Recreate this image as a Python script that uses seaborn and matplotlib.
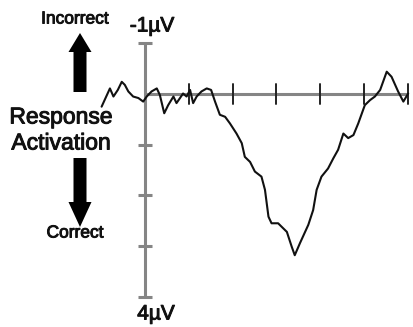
import numpy as np
import pandas as pd
import matplotlib
matplotlib.use("Agg")
import matplotlib.pyplot as plt
from matplotlib.patches import Polygon
import matplotlib.patheffects as pe
import seaborn as sns

# Response-locked waveform (ms, microvolts; positive plotted downward)
time_ms = [-99, -80, -72, -62, -53, -46, -38, -27, -15, -4, 4, 15, 27, 34, 44,
           53, 65, 72, 80, 87, 95, 103, 110, 118, 129, 141, 151, 160, 171, 183,
           194, 209, 221, 228, 240, 251, 266, 274, 282, 289, 304, 324, 335, 342,
           354, 373, 384, 392, 403, 418, 430, 441, 453, 464, 476, 487, 502, 514,
           525, 537, 552, 563, 578, 590, 601]
amplitude_uv = [0.25, -0.11, 0.05, -0.08, -0.24, -0.18, -0.05, 0.05, 0.08, 0.15,
                0.05, -0.05, -0.11, 0.02, 0.38, 0.22, 0.05, 0.18, 0.08, -0.01,
                0.05, -0.08, 0.18, 0.05, -0.05, -0.11, -0.08, 0.15, 0.41, 0.45,
                0.58, 0.78, 0.97, 1.24, 1.34, 1.53, 1.63, 1.89, 2.42, 2.55, 2.55,
                2.72, 3.01, 3.18, 2.94, 2.58, 2.29, 1.89, 1.63, 1.47, 1.27, 1.10,
                0.78, 0.87, 0.81, 0.58, 0.22, 0.12, 0.05, -0.08, -0.44, -0.34,
                -0.05, 0.15, -0.01]

time_ticks = [100, 200, 300, 400, 500, 600]
volt_ticks = [-1, 0, 1, 2, 3, 4]
top_label = "-1\u00b5V"
bottom_label = "4\u00b5V"

df = pd.DataFrame({"time": time_ms, "uv": amplitude_uv})

sns.set_theme(style="white")
plt.rcParams["font.family"] = ["Liberation Sans", "DejaVu Sans"]

W, H = 413, 327
fig = plt.figure(figsize=(W / 100, H / 100), dpi=100)
ax = fig.add_axes([0, 0, 1, 1])

axis_grey = "#858585"
# voltage axis with end caps / ticks
ax.plot([0, 0], [volt_ticks[0], volt_ticks[-1]], color=axis_grey, lw=2.2,
        solid_capstyle="butt", zorder=1)
for v in volt_ticks:
    if v == 0:
        continue
    ax.plot([-17, 17], [v, v], color=axis_grey, lw=2.2, solid_capstyle="butt", zorder=1)
# time axis
ax.plot([0, time_ticks[-1]], [0, 0], color=axis_grey, lw=2.2,
        solid_capstyle="butt", zorder=1)
for t in time_ticks:
    ax.plot([t, t], [-0.2, 0.2], color="#222222", lw=1.4, zorder=2)

sns.lineplot(data=df, x="time", y="uv", ax=ax, color="#111111", lw=1.5,
             sort=False, estimator=None, zorder=3)
ax.set_xlim(-331, 612)
ax.set_ylim(4.596, -1.854)
ax.axis("off")

# overlay in pixel units for the annotation column
ov = fig.add_axes([0, 0, 1, 1], facecolor="none")
ov.set_xlim(0, W)
ov.set_ylim(H, 0)
ov.axis("off")

heavy = [pe.withStroke(linewidth=0.7, foreground="#111111")]
ov.text(152, 26, top_label, ha="center", va="center", fontsize=15,
        color="#111111", path_effects=heavy)
ov.text(156, 314, bottom_label, ha="center", va="center", fontsize=15,
        color="#111111", path_effects=heavy)
ov.text(75, 19, "Incorrect", ha="center", va="center", fontsize=12.5,
        color="#111111", path_effects=heavy)
ov.text(75, 233, "Correct", ha="center", va="center", fontsize=12.5,
        color="#111111", path_effects=heavy)
ov.text(61, 117, "Response", ha="center", va="center", fontsize=16.5,
        color="#111111", path_effects=heavy)
ov.text(61, 143, "Activation", ha="center", va="center", fontsize=16.5,
        color="#111111", path_effects=heavy)

cx, sh, hh = 80, 6.5, 11.5
up = [(cx - sh, 92), (cx - sh, 52), (cx - hh, 52), (cx, 33), (cx + hh, 52),
      (cx + sh, 52), (cx + sh, 92)]
down = [(cx - sh, 158), (cx - sh, 202), (cx - hh, 202), (cx, 227), (cx + hh, 202),
        (cx + sh, 202), (cx + sh, 158)]
for pts in (up, down):
    ov.add_patch(Polygon(pts, closed=True, color="black", lw=0))

fig.savefig("out.png", dpi=100)
